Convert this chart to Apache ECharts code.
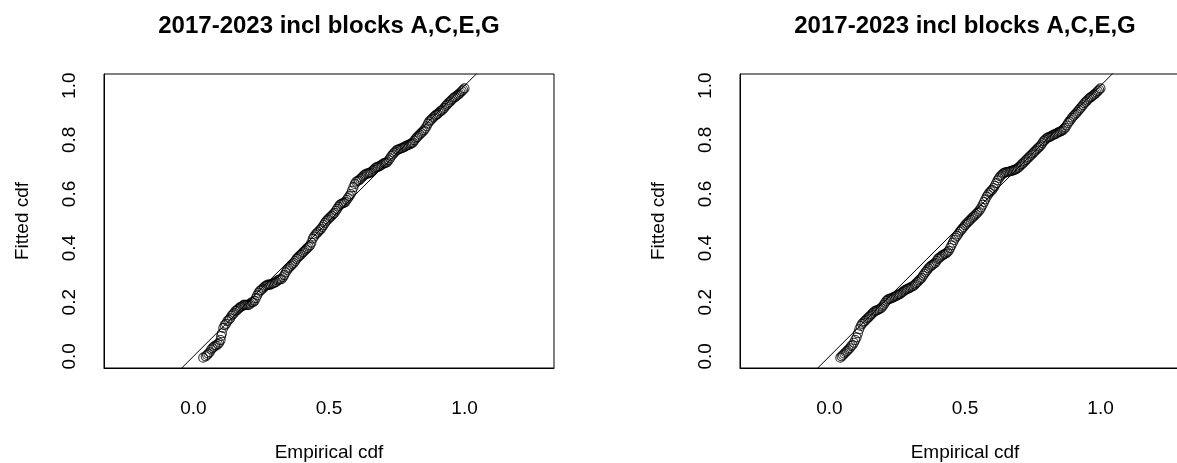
<!DOCTYPE html>
<html>
<head>
<meta charset="utf-8">
<script src="https://cdn.jsdelivr.net/npm/echarts@6/dist/echarts.min.js"></script>
<style>
  html, body { margin: 0; padding: 0; background: #fff; overflow: hidden; }
  #chart { width: 1177px; height: 463px; }
</style>
</head>
<body>
<div id="chart"></div>
<script>
// P-P plot: empirical cdf (x) against fitted cdf (y), two panels
const panelTitles = ['2017-2023 incl blocks A,C,E,G', '2017-2023 incl blocks A,C,E,G'];
const xAxisTitle = 'Empirical cdf';
const yAxisTitle = 'Fitted cdf';
const xTicks = [0, 0.5, 1];
const yTicks = [0, 0.2, 0.4, 0.6, 0.8, 1];
const refLine = [-1, 2];

// [empirical, fitted]
const leftPoints = [
  [0.036,-0.005],[0.045,0.0],[0.05,0.005],[0.055,0.01],[0.06,0.015],[0.065,0.025],[0.07,0.03],[0.075,0.035],
  [0.08,0.04],[0.085,0.04],[0.09,0.045],[0.095,0.05],[0.10,0.06],[0.102,0.075],[0.105,0.085],[0.11,0.105],
  [0.115,0.115],[0.12,0.12],[0.125,0.13],[0.13,0.135],[0.135,0.14],[0.14,0.15],[0.145,0.155],[0.15,0.16],
  [0.155,0.168],[0.16,0.17],[0.165,0.175],[0.17,0.18],[0.175,0.183],[0.18,0.185],[0.185,0.19],[0.19,0.19],
  [0.195,0.19],[0.20,0.19],[0.205,0.19],[0.21,0.195],[0.215,0.2],[0.22,0.20],[0.225,0.205],[0.23,0.215],
  [0.235,0.225],[0.24,0.235],[0.245,0.242],[0.25,0.245],[0.255,0.25],[0.26,0.255],[0.265,0.26],[0.27,0.262],
  [0.275,0.265],[0.28,0.265],[0.285,0.265],[0.29,0.268],[0.295,0.27],[0.30,0.272],[0.305,0.275],[0.31,0.28],
  [0.315,0.283],[0.32,0.285],[0.325,0.285],[0.33,0.292],[0.335,0.30],[0.34,0.31],[0.345,0.318],[0.35,0.325],
  [0.355,0.33],[0.36,0.335],[0.365,0.34],[0.37,0.345],[0.375,0.352],[0.38,0.36],[0.385,0.365],[0.39,0.37],
  [0.395,0.375],[0.40,0.38],[0.405,0.385],[0.41,0.39],[0.415,0.395],[0.42,0.40],[0.425,0.405],[0.43,0.41],
  [0.435,0.42],[0.44,0.435],[0.445,0.443],[0.45,0.45],[0.455,0.455],[0.46,0.46],[0.465,0.466],[0.47,0.47],
  [0.475,0.478],[0.48,0.485],[0.485,0.493],[0.49,0.50],[0.495,0.505],[0.50,0.51],[0.505,0.515],[0.51,0.52],
  [0.515,0.525],[0.52,0.53],[0.525,0.538],[0.53,0.545],[0.535,0.553],[0.54,0.56],[0.545,0.563],[0.55,0.565],
  [0.555,0.567],[0.56,0.57],[0.565,0.578],[0.57,0.585],[0.575,0.592],[0.58,0.60],[0.585,0.612],[0.59,0.625],
  [0.595,0.637],[0.60,0.645],[0.605,0.648],[0.61,0.65],[0.615,0.655],[0.62,0.66],[0.625,0.665],[0.63,0.67],
  [0.635,0.673],[0.64,0.675],[0.645,0.676],[0.65,0.678],[0.655,0.68],[0.66,0.685],[0.665,0.69],[0.67,0.695],
  [0.675,0.698],[0.68,0.70],[0.685,0.702],[0.69,0.705],[0.695,0.708],[0.70,0.712],[0.705,0.714],[0.71,0.715],
  [0.715,0.718],[0.72,0.725],[0.725,0.732],[0.73,0.74],[0.735,0.746],[0.74,0.752],[0.745,0.757],[0.75,0.762],
  [0.755,0.764],[0.76,0.766],[0.765,0.768],[0.77,0.77],[0.775,0.772],[0.78,0.775],[0.785,0.778],[0.79,0.78],
  [0.795,0.782],[0.80,0.785],[0.805,0.787],[0.81,0.79],[0.815,0.798],[0.82,0.805],[0.825,0.81],[0.83,0.815],
  [0.835,0.82],[0.84,0.825],[0.845,0.83],[0.85,0.835],[0.855,0.842],[0.86,0.85],[0.865,0.86],[0.87,0.868],
  [0.875,0.873],[0.88,0.878],[0.885,0.883],[0.89,0.888],[0.895,0.892],[0.90,0.895],[0.905,0.9],[0.91,0.905],
  [0.915,0.908],[0.92,0.912],[0.925,0.918],[0.93,0.925],[0.935,0.93],[0.94,0.935],[0.945,0.94],[0.95,0.945],
  [0.955,0.95],[0.96,0.955],[0.965,0.958],[0.97,0.962],[0.975,0.966],[0.98,0.97],[0.985,0.975],[0.99,0.98],
  [0.995,0.985],[1.00,0.99]
];

const rightPoints = [
  [0.04,-0.005],[0.045,0.0],[0.05,0.005],[0.055,0.01],[0.06,0.015],[0.065,0.02],[0.07,0.025],[0.075,0.03],
  [0.08,0.038],[0.085,0.042],[0.09,0.05],[0.095,0.06],[0.10,0.07],[0.105,0.085],[0.11,0.10],[0.115,0.112],
  [0.12,0.12],[0.125,0.125],[0.13,0.13],[0.135,0.135],[0.14,0.14],[0.145,0.145],[0.15,0.15],[0.155,0.155],
  [0.16,0.16],[0.165,0.165],[0.17,0.168],[0.175,0.17],[0.18,0.172],[0.185,0.175],[0.19,0.178],[0.195,0.183],
  [0.20,0.19],[0.205,0.198],[0.21,0.205],[0.215,0.21],[0.22,0.212],[0.225,0.213],[0.23,0.215],[0.235,0.218],
  [0.24,0.22],[0.245,0.222],[0.25,0.225],[0.255,0.228],[0.26,0.23],[0.265,0.234],[0.27,0.238],[0.275,0.242],
  [0.28,0.245],[0.285,0.248],[0.29,0.25],[0.295,0.252],[0.30,0.255],[0.305,0.258],[0.31,0.26],[0.315,0.265],
  [0.32,0.27],[0.325,0.275],[0.33,0.28],[0.335,0.285],[0.34,0.29],[0.345,0.298],[0.35,0.305],[0.355,0.312],
  [0.36,0.318],[0.365,0.325],[0.37,0.33],[0.375,0.334],[0.38,0.338],[0.385,0.342],[0.39,0.345],[0.395,0.352],
  [0.40,0.36],[0.405,0.364],[0.41,0.368],[0.415,0.372],[0.42,0.375],[0.425,0.378],[0.43,0.38],[0.435,0.385],
  [0.44,0.39],[0.445,0.40],[0.45,0.41],[0.455,0.42],[0.46,0.43],[0.465,0.438],[0.47,0.445],[0.475,0.452],
  [0.48,0.46],[0.485,0.466],[0.49,0.472],[0.495,0.478],[0.50,0.485],[0.505,0.49],[0.51,0.495],[0.515,0.50],
  [0.52,0.505],[0.525,0.51],[0.53,0.515],[0.535,0.52],[0.54,0.525],[0.545,0.53],[0.55,0.535],[0.555,0.542],
  [0.56,0.55],[0.565,0.56],[0.57,0.57],[0.575,0.58],[0.58,0.59],[0.585,0.598],[0.59,0.605],[0.595,0.61],
  [0.60,0.615],[0.605,0.622],[0.61,0.63],[0.615,0.64],[0.62,0.65],[0.625,0.658],[0.63,0.665],[0.635,0.67],
  [0.64,0.675],[0.645,0.678],[0.65,0.68],[0.655,0.681],[0.66,0.682],[0.665,0.683],[0.67,0.685],[0.675,0.686],
  [0.68,0.688],[0.685,0.69],[0.69,0.692],[0.695,0.696],[0.70,0.70],[0.705,0.705],[0.71,0.71],[0.715,0.715],
  [0.72,0.72],[0.725,0.725],[0.73,0.73],[0.735,0.735],[0.74,0.74],[0.745,0.745],[0.75,0.75],[0.755,0.755],
  [0.76,0.76],[0.765,0.765],[0.77,0.77],[0.775,0.775],[0.78,0.78],[0.785,0.788],[0.79,0.795],[0.795,0.8],
  [0.80,0.805],[0.805,0.808],[0.81,0.81],[0.815,0.812],[0.82,0.815],[0.825,0.818],[0.83,0.82],[0.835,0.822],
  [0.84,0.825],[0.845,0.828],[0.85,0.83],[0.855,0.832],[0.86,0.835],[0.865,0.84],[0.87,0.845],[0.875,0.853],
  [0.88,0.862],[0.885,0.868],[0.89,0.875],[0.895,0.882],[0.90,0.888],[0.905,0.893],[0.91,0.898],[0.915,0.904],
  [0.92,0.91],[0.925,0.916],[0.93,0.922],[0.935,0.928],[0.94,0.935],[0.945,0.94],[0.95,0.945],[0.955,0.95],
  [0.96,0.955],[0.965,0.958],[0.97,0.962],[0.975,0.966],[0.98,0.97],[0.985,0.975],[0.99,0.98],[0.995,0.985],
  [1.00,0.99]
];

const FONT = 'Liberation Sans, Arial, Helvetica, sans-serif';
const X_MIN = -0.33, X_MAX = 1.33, Y_MIN = -0.0432, Y_MAX = 1.0432;
const TICK_LEN = 12;
const panels = [
  { left: 104, points: leftPoints },
  { left: 740, points: rightPoints }
];
const plotW = 450, plotH = 294, plotTop = 74;
// tick length expressed in data units of each axis
const tickDX = TICK_LEN * (X_MAX - X_MIN) / plotW;
const tickDY = TICK_LEN * (Y_MAX - Y_MIN) / plotH;

const option = {
  animation: false,
  backgroundColor: '#fff',
  title: panels.map((p, i) => ({
    text: panelTitles[i],
    left: p.left + plotW / 2,
    textAlign: 'center',
    top: 14,
    padding: 0,
    textStyle: { fontFamily: FONT, fontSize: 24, fontWeight: 'bold', color: '#000' }
  })),
  grid: panels.map(p => ({
    left: p.left, top: plotTop, width: plotW, height: plotH,
    show: true, borderColor: '#000', borderWidth: 1, backgroundColor: 'transparent',
    containLabel: false, outerBoundsMode: 'none'
  })),
  xAxis: panels.map((p, i) => ({
    type: 'value', gridIndex: i, min: X_MIN, max: X_MAX,
    splitLine: { show: false },
    axisLine: { show: true, onZero: false, lineStyle: { color: '#000', width: 1 } },
    axisTick: { show: false },
    axisLabel: { customValues: xTicks, formatter: v => v.toFixed(1), margin: 31,
      fontFamily: FONT, fontSize: 19, color: '#000' },
    name: xAxisTitle, nameLocation: 'middle', nameGap: 75,
    nameTextStyle: { fontFamily: FONT, fontSize: 19, color: '#000' }
  })),
  yAxis: panels.map((p, i) => ({
    type: 'value', gridIndex: i, min: Y_MIN, max: Y_MAX,
    splitLine: { show: false },
    axisLine: { show: true, onZero: false, lineStyle: { color: '#000', width: 1 } },
    axisTick: { show: false },
    axisLabel: { customValues: yTicks, formatter: v => v.toFixed(1), rotate: 90, margin: 25,
      fontFamily: FONT, fontSize: 19, color: '#000' },
    name: yAxisTitle, nameLocation: 'middle', nameGap: 72, nameRotate: 90,
    nameTextStyle: { fontFamily: FONT, fontSize: 19, color: '#000' }
  })),
  series: panels.flatMap((p, i) => [
    {
      type: 'line', xAxisIndex: i, yAxisIndex: i,
      data: refLine.map(v => [v, v]), showSymbol: false, clip: true,
      lineStyle: { color: '#000', width: 1 }, silent: true
    },
    {
      type: 'scatter', xAxisIndex: i, yAxisIndex: i,
      data: p.points, symbol: 'circle', symbolSize: 9, clip: true,
      itemStyle: { color: 'rgba(0,0,0,0)', borderColor: '#000', borderWidth: 1.1 }
    },
    // outward tick marks drawn as mark lines just outside the plot box
    {
      type: 'line', xAxisIndex: i, yAxisIndex: i, data: [], clip: false, silent: true,
      markLine: {
        silent: true, symbol: 'none', animation: false,
        label: { show: false },
        lineStyle: { color: '#000', width: 1, type: 'solid' },
        emphasis: { disabled: true },
        data: [
          ...xTicks.map(v => [{ coord: [v, Y_MIN] }, { coord: [v, Y_MIN - tickDY] }]),
          ...yTicks.map(v => [{ coord: [X_MIN, v] }, { coord: [X_MIN - tickDX, v] }])
        ]
      }
    }
  ])
};

const chart = echarts.init(document.getElementById('chart'), null, { renderer: 'canvas' });
chart.setOption(option);
</script>
</body>
</html>
